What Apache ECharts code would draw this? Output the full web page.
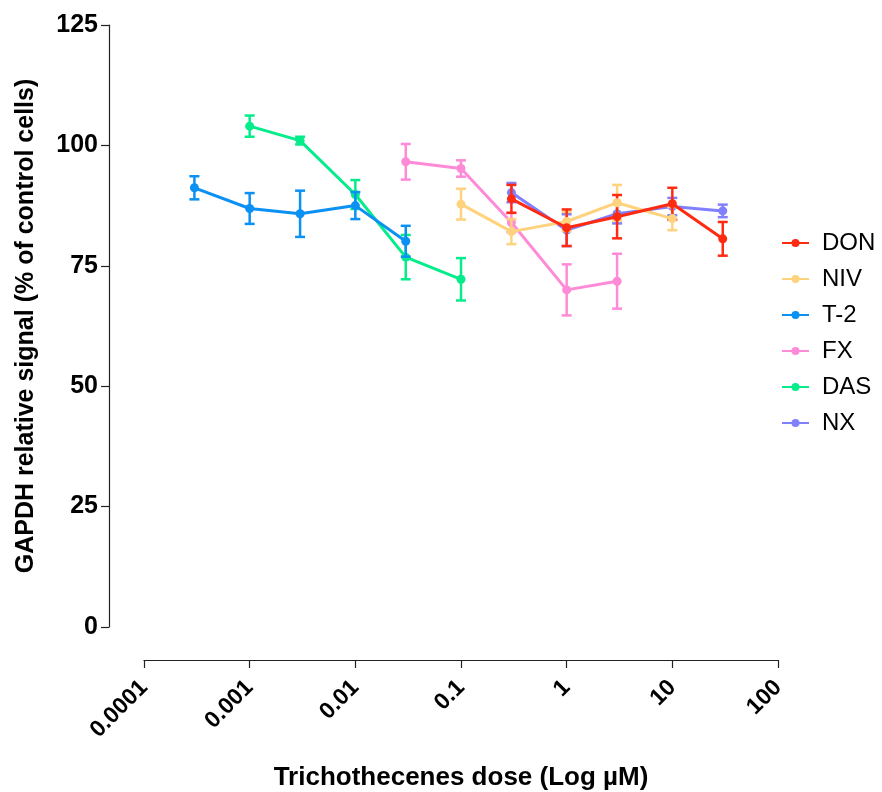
<!DOCTYPE html>
<html>
<head>
<meta charset="utf-8">
<script src="https://cdn.jsdelivr.net/npm/echarts@6/dist/echarts.min.js"></script>
<style>
  html, body { margin: 0; padding: 0; background: #fff; }
  #chart { width: 882px; height: 792px; }
</style>
</head>
<body>
<div id="chart"></div>
<script>
// dose (µM), mean and error for each toxin
const seriesNames = ['DON', 'NIV', 'T-2', 'FX', 'DAS', 'NX'];
const colors = ['#ff2a12', '#ffd27e', '#0b90f3', '#ff8ad8', '#05ec8a', '#8080ff'];

const donDose = [0.3, 1, 3, 10, 30];
const donMean = [88.9, 82.9, 85.2, 87.9, 80.6];
const donErr = [2.9, 3.8, 4.5, 3.3, 3.5];

const nivDose = [0.1, 0.3, 1, 3, 10];
const nivMean = [87.8, 82.1, 84.2, 88.1, 84.8];
const nivErr = [3.2, 2.6, 2.0, 3.7, 2.4];

const t2Dose = [0.0003, 0.001, 0.003, 0.01, 0.03];
const t2Mean = [91.2, 86.9, 85.8, 87.5, 80.1];
const t2Err = [2.4, 3.2, 4.8, 2.8, 3.2];

const fxDose = [0.03, 0.1, 0.3, 1, 3];
const fxMean = [96.6, 95.2, 84.0, 70.0, 71.8];
const fxErr = [3.7, 1.7, 2.0, 5.3, 5.7];

const dasDose = [0.001, 0.003, 0.01, 0.03, 0.1];
const dasMean = [104.0, 101.0, 89.8, 76.8, 72.2];
const dasErr = [2.2, 0.8, 3.0, 4.6, 4.4];

const nxDose = [0.3, 1, 3, 10, 30];
const nxMean = [90.2, 82.4, 85.8, 87.3, 86.4];
const nxErr = [2.0, 3.3, 2.0, 1.8, 1.3];

const yTicks = [0, 25, 50, 75, 100, 125];
const xTicks = ['0.0001', '0.001', '0.01', '0.1', '1', '10', '100'];

const groups = [
  [donDose, donMean, donErr],
  [nivDose, nivMean, nivErr],
  [t2Dose, t2Mean, t2Err],
  [fxDose, fxMean, fxErr],
  [dasDose, dasMean, dasErr],
  [nxDose, nxMean, nxErr]
];

const chart = echarts.init(document.getElementById('chart'));

function errorBars (color) {
  return function (params, api) {
    const x = api.value(0);
    const lo = api.coord([x, api.value(1)]);
    const hi = api.coord([x, api.value(2)]);
    const cap = 5;
    const style = { stroke: color, lineWidth: 2.5 };
    return {
      type: 'group',
      children: [
        { type: 'line', shape: { x1: lo[0], y1: lo[1], x2: hi[0], y2: hi[1] }, style: style },
        { type: 'line', shape: { x1: lo[0] - cap, y1: lo[1], x2: lo[0] + cap, y2: lo[1] }, style: style },
        { type: 'line', shape: { x1: hi[0] - cap, y1: hi[1], x2: hi[0] + cap, y2: hi[1] }, style: style }
      ]
    };
  };
}

// draw NX first, DON last so red ends on top
const order = [5, 4, 3, 2, 1, 0];
const series = [];
order.forEach(function (i) {
  const g = groups[i];
  const c = colors[i];
  series.push({
    type: 'custom',
    name: seriesNames[i] + ' sem',
    renderItem: errorBars(c),
    data: g[0].map(function (d, k) { return [d, g[1][k] - g[2][k], g[1][k] + g[2][k]]; }),
    encode: { x: 0, y: [1, 2] },
    z: 2 + (5 - i),
    silent: true
  });
  series.push({
    type: 'line',
    name: seriesNames[i],
    data: g[0].map(function (d, k) { return [d, g[1][k]]; }),
    symbol: 'circle',
    symbolSize: 9,
    lineStyle: { width: 3, color: c },
    itemStyle: { color: c },
    z: 3 + (5 - i)
  });
});

chart.setOption({
  animation: false,
  backgroundColor: '#fff',
  textStyle: { fontFamily: 'Liberation Sans, Arial, sans-serif' },
  grid: { left: 144, right: 104, top: 25, bottom: 165, outerBoundsMode: 'none' },
  legend: {
    data: seriesNames,
    orient: 'vertical',
    left: 781,
    top: 231,
    padding: 0,
    itemWidth: 27,
    itemHeight: 10,
    itemGap: 12,
    textStyle: { fontSize: 24, color: '#000', padding: [0, 0, 0, 8] }
  },
  xAxis: {
    type: 'log',
    logBase: 10,
    min: 0.0001,
    max: 100,
    offset: 33,
    name: 'Trichothecenes dose (Log µM)',
    nameLocation: 'middle',
    nameGap: 105,
    nameTextStyle: { fontSize: 26, fontWeight: 'bold', color: '#000' },
    axisLine: { onZero: false, lineStyle: { color: '#222', width: 1.2 } },
    axisTick: { length: 8, lineStyle: { color: '#222', width: 1.2 } },
    minorTick: { show: false },
    splitLine: { show: false },
    axisLabel: {
      rotate: 45,
      fontSize: 23,
      fontWeight: 'bold',
      color: '#000',
      margin: 24,
      formatter: function (v) {
        const e = Math.round(Math.log10(v));
        return xTicks[e + 4];
      }
    }
  },
  yAxis: {
    type: 'value',
    min: 0,
    max: 125,
    interval: 25,
    offset: 35,
    name: 'GAPDH relative signal (% of control cells)',
    nameLocation: 'middle',
    nameGap: 70,
    nameTextStyle: { fontSize: 25, fontWeight: 'bold', color: '#000' },
    axisLine: { show: true, lineStyle: { color: '#222', width: 1.2 } },
    axisTick: { show: true, length: 8, lineStyle: { color: '#222', width: 1.2 } },
    splitLine: { show: false },
    axisLabel: {
      fontSize: 25,
      fontWeight: 'bold',
      color: '#000',
      margin: 11,
      formatter: function (v) { return yTicks.indexOf(v) >= 0 ? String(v) : ''; }
    }
  },
  series: series
});
</script>
</body>
</html>
